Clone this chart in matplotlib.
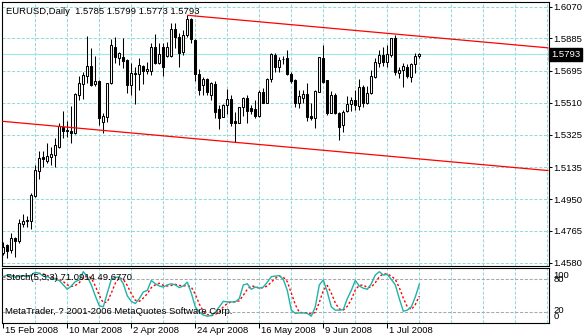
import numpy as np
import matplotlib
matplotlib.use("Agg")
import matplotlib.pyplot as plt
from matplotlib import transforms

plt.rcParams['font.family'] = ['Liberation Sans', 'DejaVu Sans']

# ---- data -------------------------------------------------------------
chart_title = "EURUSD,Daily  1.5785 1.5799 1.5773 1.5793"
stoch_title = "Stoch(5,3,3) 71.0914 49.6770"
copyright_text = "MetaTrader, ? 2001-2006 MetaQuotes Software Corp."

opens = [1.4637, 1.4682, 1.4653, 1.4724, 1.4707, 1.4806, 1.4822, 1.4824, 1.4967, 1.5115,
         1.5196, 1.5173, 1.5196, 1.5208, 1.5254, 1.5371, 1.5351, 1.5346, 1.5332, 1.5555,
         1.5619, 1.5667, 1.5724, 1.5619, 1.5637, 1.5400, 1.5429, 1.5623, 1.5836, 1.5772,
         1.5778, 1.5759, 1.5613, 1.5685, 1.5676, 1.5724, 1.5692, 1.5697, 1.5833, 1.5740,
         1.5833, 1.5784, 1.5782, 1.5937, 1.5891, 1.5807, 1.5904, 1.5996, 1.5875, 1.5677,
         1.5613, 1.5646, 1.5555, 1.5619, 1.5472, 1.5429, 1.5497, 1.5530, 1.5406, 1.5394,
         1.5484, 1.5536, 1.5478, 1.5472, 1.5433, 1.5574, 1.5510, 1.5646, 1.5788, 1.5716,
         1.5763, 1.5769, 1.5677, 1.5642, 1.5507, 1.5536, 1.5561, 1.5433, 1.5419, 1.5574,
         1.5769, 1.5642, 1.5452, 1.5555, 1.5452, 1.5381, 1.5464, 1.5503, 1.5526, 1.5491,
         1.5600, 1.5510, 1.5565, 1.5662, 1.5743, 1.5788, 1.5749, 1.5788, 1.5885, 1.5685,
         1.5701, 1.5720, 1.5662, 1.5736, 1.5785]
highs = [1.4701, 1.4688, 1.4750, 1.4730, 1.4832, 1.4863, 1.4851, 1.4987, 1.5146, 1.5231,
         1.5231, 1.5274, 1.5254, 1.5303, 1.5390, 1.5464, 1.5404, 1.5491, 1.5568, 1.5666,
         1.5691, 1.5899, 1.5830, 1.5782, 1.5642, 1.5449, 1.5627, 1.5879, 1.5894, 1.5807,
         1.5885, 1.5763, 1.5740, 1.5720, 1.5769, 1.5730, 1.5750, 1.5860, 1.5910, 1.5856,
         1.5856, 1.5865, 1.5976, 1.5976, 1.5918, 1.5933, 1.6019, 1.6005, 1.5879, 1.5705,
         1.5658, 1.5652, 1.5632, 1.5637, 1.5497, 1.5503, 1.5588, 1.5555, 1.5458, 1.5487,
         1.5542, 1.5555, 1.5497, 1.5526, 1.5584, 1.5594, 1.5652, 1.5801, 1.5798, 1.5778,
         1.5782, 1.5817, 1.5691, 1.5646, 1.5584, 1.5584, 1.5623, 1.5507, 1.5584, 1.5778,
         1.5846, 1.5642, 1.5580, 1.5565, 1.5458, 1.5468, 1.5549, 1.5545, 1.5584, 1.5646,
         1.5613, 1.5607, 1.5701, 1.5769, 1.5817, 1.5836, 1.5846, 1.5885, 1.5905, 1.5716,
         1.5743, 1.5736, 1.5740, 1.5801, 1.5799]
lows = [1.4624, 1.4606, 1.4637, 1.4611, 1.4696, 1.4785, 1.4788, 1.4774, 1.4960, 1.5068,
        1.5138, 1.5158, 1.5148, 1.5138, 1.5247, 1.5305, 1.5312, 1.5278, 1.5328, 1.5526,
        1.5530, 1.5623, 1.5607, 1.5607, 1.5381, 1.5336, 1.5400, 1.5619, 1.5743, 1.5730,
        1.5710, 1.5565, 1.5555, 1.5503, 1.5584, 1.5619, 1.5675, 1.5672, 1.5736, 1.5736,
        1.5666, 1.5778, 1.5778, 1.5827, 1.5716, 1.5788, 1.5891, 1.5856, 1.5637, 1.5555,
        1.5555, 1.5555, 1.5526, 1.5421, 1.5355, 1.5425, 1.5445, 1.5375, 1.5280, 1.5390,
        1.5433, 1.5394, 1.5445, 1.5419, 1.5429, 1.5507, 1.5507, 1.5632, 1.5691, 1.5691,
        1.5736, 1.5672, 1.5627, 1.5484, 1.5478, 1.5507, 1.5406, 1.5410, 1.5361, 1.5571,
        1.5627, 1.5439, 1.5449, 1.5445, 1.5293, 1.5342, 1.5458, 1.5464, 1.5468, 1.5468,
        1.5487, 1.5503, 1.5561, 1.5652, 1.5720, 1.5724, 1.5720, 1.5778, 1.5672, 1.5652,
        1.5603, 1.5652, 1.5632, 1.5685, 1.5773]
closes = [1.4672, 1.4649, 1.4721, 1.4707, 1.4808, 1.4822, 1.4826, 1.4973, 1.5119, 1.5187,
          1.5184, 1.5200, 1.5212, 1.5262, 1.5375, 1.5344, 1.5344, 1.5336, 1.5561, 1.5627,
          1.5673, 1.5724, 1.5615, 1.5637, 1.5423, 1.5433, 1.5623, 1.5846, 1.5775, 1.5801,
          1.5755, 1.5613, 1.5681, 1.5677, 1.5730, 1.5695, 1.5705, 1.5833, 1.5740, 1.5794,
          1.5716, 1.5833, 1.5937, 1.5891, 1.5801, 1.5904, 1.5996, 1.5879, 1.5677, 1.5587,
          1.5646, 1.5574, 1.5623, 1.5456, 1.5419, 1.5497, 1.5530, 1.5390, 1.5394, 1.5484,
          1.5536, 1.5464, 1.5464, 1.5433, 1.5574, 1.5510, 1.5646, 1.5794, 1.5716, 1.5759,
          1.5767, 1.5677, 1.5638, 1.5507, 1.5549, 1.5561, 1.5429, 1.5419, 1.5578, 1.5775,
          1.5632, 1.5452, 1.5555, 1.5452, 1.5371, 1.5458, 1.5503, 1.5526, 1.5497, 1.5600,
          1.5510, 1.5565, 1.5666, 1.5749, 1.5788, 1.5749, 1.5794, 1.5885, 1.5691, 1.5701,
          1.5724, 1.5666, 1.5736, 1.5782, 1.5793]

# Stochastic (5,3,3): main line %K and signal line %D
stoch_k = [85, 88, 86, 84, 86, 87, 85, 88, 93, 91,
           86, 85, 82, 80, 78, 70, 62, 68, 76, 79,
           94, 85, 70, 50, 32, 30, 55, 80, 84, 84,
           72, 50, 40, 36, 45, 57, 60, 78, 72, 68,
           66, 70, 72, 70, 65, 68, 75, 55, 30, 20,
           15, 13, 14, 20, 30, 40, 39, 39, 39, 45,
           70, 72, 62, 66, 64, 66, 75, 85, 86, 87,
           80, 60, 24, 18, 19, 19, 18, 13, 30, 70,
           79, 57, 30, 24, 24, 25, 45, 60, 78, 68,
           64, 62, 72, 88, 94, 88, 89, 80, 70, 45,
           22, 24, 30, 48, 71.0914]
stoch_d = [84, 85, 86, 86, 85, 86, 86, 87, 89, 91,
           90, 87, 84, 82, 80, 76, 70, 67, 69, 74,
           83, 86, 83, 68, 51, 37, 39, 55, 73, 83,
           80, 69, 54, 42, 40, 46, 54, 65, 70, 73,
           69, 68, 69, 71, 69, 68, 69, 66, 53, 35,
           22, 16, 14, 16, 21, 30, 36, 39, 39, 41,
           51, 62, 68, 67, 64, 65, 68, 75, 82, 86,
           84, 76, 55, 34, 20, 19, 19, 17, 20, 38,
           60, 69, 55, 37, 26, 24, 31, 43, 61, 69,
           70, 65, 66, 74, 85, 90, 90, 86, 80, 65,
           46, 30, 25, 34, 49.6770]

price_labels = ["1.4580", "1.4765", "1.4950", "1.5135", "1.5325",
                "1.5510", "1.5695", "1.5885", "1.6070"]
bid_label = "1.5793"
date_ticks = [0, 16, 32, 48, 64, 80, 96]
date_labels = ["15 Feb 2008", "10 Mar 2008", "2 Apr 2008", "24 Apr 2008",
               "16 May 2008", "9 Jun 2008", "1 Jul 2008"]
stoch_levels = [20, 80]

# trend channel: upper line from the April high, lower line through the May low
upper_anchor = (46, 1.6019)
lower_anchor = (58, 1.5280)
channel_slope = -0.00021  # price per bar

# ---- layout -----------------------------------------------------------
W, H = 584, 336
fig = plt.figure(figsize=(W / 100, H / 100), dpi=100)
fig.patch.set_facecolor("white")


def frac(l, t, r, b):
    return [l / W, 1 - b / H, (r - l) / W, (b - t) / H]


ax = fig.add_axes(frac(2.3, 1.7, 548.5, 265.7))
sub = fig.add_axes(frac(2.3, 267.6, 548.5, 323.3))

n = len(opens)
x = np.arange(n)
o = np.array(opens)
h = np.array(highs)
l = np.array(lows)
c = np.array(closes)

xmin, xmax = -0.25, 136.3
grid_col = "#96dada"
dash = (0, (3.0, 1.6))
fs = 6.8

for a in (ax, sub):
    a.set_xlim(xmin, xmax)
    for s in a.spines.values():
        s.set_color("black")
        s.set_linewidth(0.8)
    a.set_facecolor("white")
    for gx in range(8, 137, 8):
        a.axvline(gx, color=grid_col, lw=0.75, ls=dash, zorder=0)

# ---- price panel ------------------------------------------------------
ax.set_ylim(1.45624, 1.6098)
price_ticks = [float(s) for s in price_labels]
for gy in price_ticks:
    ax.axhline(gy, color=grid_col, lw=0.75, ls=dash, zorder=0)

ax.axhline(closes[-1], color="#9fe6e6", lw=0.8, zorder=1)

ax.vlines(x, l, h, color="black", lw=0.75, zorder=2)
up = c >= o
body_h = np.maximum(np.abs(c - o), 1e-6)
ax.bar(x, body_h, bottom=np.minimum(o, c), width=0.55,
       color=np.where(up, "white", "black"), edgecolor="black",
       linewidth=0.75, zorder=3)

ux = np.array([upper_anchor[0], xmax])
ax.plot(ux, upper_anchor[1] + channel_slope * (ux - upper_anchor[0]),
        color="red", lw=0.9, zorder=4, solid_capstyle="butt")
lx = np.array([xmin, xmax])
ax.plot(lx, lower_anchor[1] + channel_slope * (lx - lower_anchor[0]),
        color="red", lw=0.9, zorder=4, solid_capstyle="butt")

ax.set_xticks([])
ax.yaxis.tick_right()
ax.set_yticks(price_ticks)
ax.set_yticklabels(price_labels)
ax.tick_params(axis="y", length=2.5, width=0.75, pad=1.2, labelsize=fs, colors="black")

ax.text(0.0068, 0.962, chart_title, transform=ax.transAxes, fontsize=fs,
        va="center", ha="left", color="black")

ax.annotate(bid_label, xy=(1, closes[-1]), xycoords=("axes fraction", "data"),
            xytext=(2.0, 0), textcoords="offset points", va="center", ha="left",
            fontsize=fs, color="white", annotation_clip=False,
            bbox=dict(boxstyle="square,pad=0.2", fc="black", ec="black"))

# ---- stochastic panel -------------------------------------------------
sub.set_ylim(0, 101.5)
for lv in stoch_levels:
    sub.axhline(lv, color="#a8a8a8", lw=0.75, ls=dash, zorder=0)
sub.plot(x, stoch_k, color="#20b2aa", lw=1.0, zorder=3)
sub.plot(x, stoch_d, color="red", lw=1.0, ls=(0, (1.6, 1.6)), zorder=2)

sub.set_yticks([])
sub.set_xticks(date_ticks)
sub.set_xticklabels(date_labels)
sub.tick_params(axis="x", direction="out", length=3.6, width=0.75, pad=-1.6,
                labelsize=fs, colors="black")
shift = transforms.ScaledTranslation(1.5 / 100, 0, fig.dpi_scale_trans)
for lbl in sub.get_xticklabels():
    lbl.set_ha("left")
    lbl.set_transform(lbl.get_transform() + shift)

level_marks = [(100, -5.0), (80, 0.0), (20, 1.2), (0, 5.0)]
for val, dy in level_marks:
    sub.annotate(str(val), xy=(1, val), xycoords=("axes fraction", "data"),
                 xytext=(3.6, dy), textcoords="offset points", va="center",
                 ha="left", fontsize=fs, color="black", annotation_clip=False)

sub.text(0.0068, 0.82, stoch_title, transform=sub.transAxes, fontsize=fs,
         va="center", ha="left", color="black", zorder=5)
sub.text(0.005, 0.21, copyright_text, transform=sub.transAxes, fontsize=fs,
         va="center", ha="left", color="black", zorder=5)

fig.savefig("out.png", dpi=100, facecolor="white")
